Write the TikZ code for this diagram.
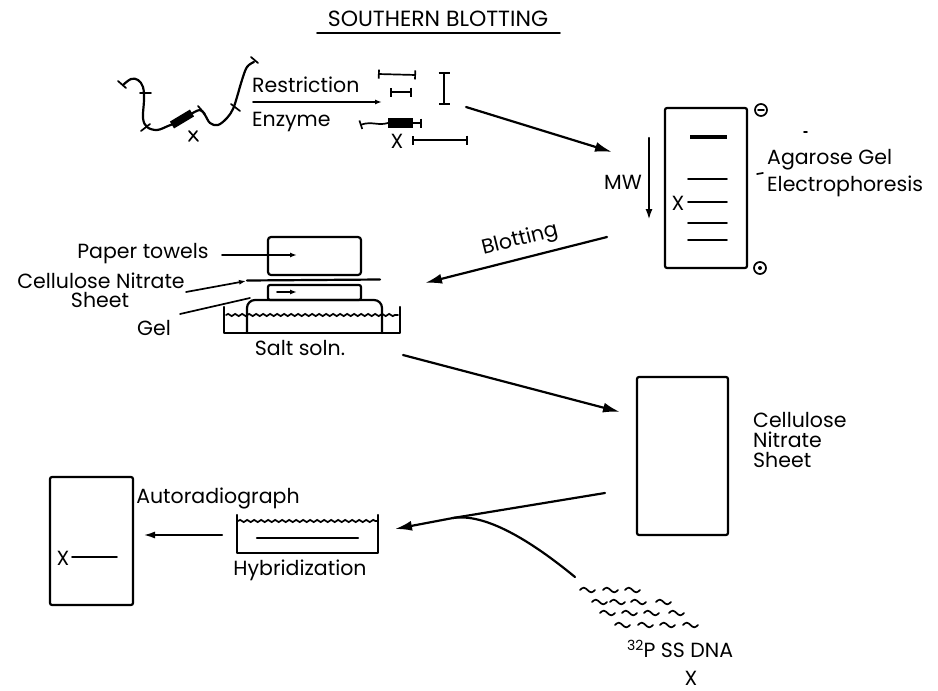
\documentclass[tikz,border=0pt]{standalone}
\usepackage{fontspec}
\setmainfont{Poppins}
\usetikzlibrary{arrows.meta,decorations.pathmorphing}
\newcommand{\lbfont}{\fontsize{20.5}{23}\selectfont}
\begin{document}
\begin{tikzpicture}[x=1pt,y=-1pt,
  ln/.style={line width=2.2pt,line cap=round,line join=round},
  thin/.style={line width=1.7pt,line cap=round},
  bigarrow/.style={ln,-{Latex[length=17pt,width=10pt]}},
  smallarrow/.style={thin,-{Latex[length=7pt,width=5pt]}},
  frag/.style={thin,{Bar[width=9pt,line width=1.7pt]}-{Bar[width=9pt,line width=1.7pt]}},
  lbl/.style={font=\lbfont,inner sep=0pt},
  box/.style={ln,rounded corners=2pt},
  wave/.style={thin,decorate,decoration={snake,amplitude=1.1pt,segment length=7pt}},
  tilde/.pic={\draw[thin] (0,0) sin (3.75,-2.3) cos (7.5,0) sin (11.25,2.3) cos (15,0);}]
\useasboundingbox (0,0) rectangle (938,691);

% title
\node[lbl,font=\fontsize{22}{24}\selectfont] (title) at (438,19) {SOUTHERN BLOTTING};
\draw[thin] (317,33) -- (560,33);

% genomic DNA with cut sites and gene X
\draw[ln] plot[smooth,tension=0.6] coordinates {(123,85) (131,79) (138,80) (143,87) (144,100) (143,118) (147,127) (157,130) (168,126) (173,124)};
\draw[line width=8pt] (172,125) -- (192,113);
\draw[ln] plot[smooth,tension=0.6] coordinates {(191,114) (200,110) (205,115) (210,123) (218,125) (227,118) (233,109) (237,97) (242,80) (247,67) (254,62)};
\draw[thin] (118,81) -- (126,88);
\draw[thin] (140,93) -- (151,93);
\draw[thin] (141,131) -- (150,124);
\draw[thin] (198,106) -- (205,114);
\draw[thin] (231,104) -- (240,111);
\draw[thin] (251,57) -- (258,63);
\draw[thin] (189,131) -- (198,141);
\draw[thin] (197,131) -- (189,141);

% restriction digest
\coordinate (rs) at (253,102);
\coordinate (re) at (382,102);
\draw[smallarrow] (rs) -- (re);
\node[lbl,anchor=base west] (restr) at (252,92) {Restriction};
\node[lbl,anchor=base west] (enz) at (252,126) {Enzyme};

% fragments
\draw[frag] (378,74) -- (416,75);
\draw[frag] (390,92) -- (412,92);
\draw[thin,{Bar[width=11pt,line width=1.7pt]}-{Bar[width=11pt,line width=1.7pt]}] (444,72) -- (444,105);
\draw[frag] (360,125) .. controls (372,121) and (378,126) .. (388,123) -- (422,123);
\fill (388,118) rectangle (413,128);
\node[lbl] (fx) at (397,141) {X};
\draw[frag] (412,140) -- (468,140);

% to electrophoresis
\coordinate (a1s) at (466,107);
\coordinate (a1e) at (612,152);
\draw[bigarrow] (a1s) -- (a1e);

% agarose gel
\draw[box] (665,108) rectangle (747,268);
\draw[line width=3.8pt] (690,137) -- (727,137);
\foreach \yy in {179,202,223,240} \draw[thin] (688,\yy) -- (727,\yy);
\node[lbl] (gx) at (678,203) {X};
\coordinate (mwt) at (649,138);
\coordinate (mwb) at (649,220);
\draw[ln,-{Latex[length=11pt,width=7pt]}] (mwt) -- (mwb);
\node[lbl] (mw) at (623,182) {MW};
\node[circle,draw,thin,minimum size=12pt,inner sep=0pt] (neg) at (761,110) {};
\draw[thin] (758,110) -- (764,110);
\node[circle,draw,thin,minimum size=12pt,inner sep=0pt] (pos) at (760,268) {};
\fill (760,268) circle (2pt);
\draw[thin] (804,132) -- (807,132);
\draw[thin] (757,174) -- (763,173);
\node[lbl,anchor=base west] (agar) at (767,164) {Agarose Gel};
\node[lbl,anchor=base west] (elec) at (767,191) {Electrophoresis};

% blotting
\coordinate (bs) at (607,237);
\coordinate (be) at (425,283);
\draw[bigarrow] (bs) -- (be);
\node[lbl,rotate=14] (blot) at (520,240) {Blotting};

% blotting stack
\draw[box,rounded corners=3pt] (268,237) rectangle (361,275);
\draw[box] (268,285) rectangle (361,300);
\draw[ln] (247,280.5) -- (380,279.5);
\draw[ln,rounded corners=8pt] (247,333) -- (247,300) -- (382,300) -- (382,333);
\draw[ln] (224,307) -- (224,333) -- (400,333) -- (400,307);
\draw[wave] (226,315) -- (398,315);
\coordinate (pts) at (222,255);
\coordinate (pte) at (297,255);
\draw[smallarrow] (pts) -- (pte);
\coordinate (gls) at (277,292);
\coordinate (gle) at (297,292);
\draw[smallarrow] (gls) -- (gle);
\coordinate (shs) at (186,292);
\coordinate (she) at (246,281);
\draw[smallarrow] (shs) -- (she);
\coordinate (gels) at (180,314);
\coordinate (gele) at (250,298);
\draw[thin] (gels) -- (gele);
\node[lbl] (ptw) at (143,254) {Paper towels};
\node[lbl] (cn1) at (101,281) {Cellulose Nitrate};
\node[lbl] (cn2) at (100,300) {Sheet};
\node[lbl] (gel) at (154,328) {Gel};
\node[lbl] (salt) at (300,348) {Salt soln.};

% to nitrocellulose sheet
\coordinate (a3s) at (403,355);
\coordinate (a3e) at (620,412);
\draw[bigarrow] (a3s) -- (a3e);
\draw[box] (637,377) rectangle (728,535);
\node[lbl,anchor=north west,align=left] (cns) at (753,412) {Cellulose\\[-3pt]Nitrate\\[-3pt]Sheet};

% probe and hybridization
\coordinate (hs) at (605,493);
\coordinate (hj) at (453,518);
\coordinate (he) at (395,529);
\coordinate (pe) at (575,577);
\draw[ln] (hs) -- (hj);
\draw[bigarrow] (hj) -- (he);
\draw[ln] (hj) .. controls (485,513) and (530,540) .. (pe);
\foreach \xx in {580,603,625} \pic at (\xx,590) {tilde};
\foreach \xx in {592,610,631,656} \pic at (\xx,602) {tilde};
\foreach \xx in {600,622,644,669} \pic at (\xx,613) {tilde};
\foreach \xx in {615,638,660,683} \pic at (\xx,625) {tilde};
\node[lbl,anchor=base west] (probe) at (627,657) {\raisebox{7pt}{\fontsize{14}{15}\selectfont 32}P SS DNA};
\node[lbl] (px) at (691,678) {X};

\draw[ln] (237,515) -- (237,553) -- (378,553) -- (378,515);
\draw[wave] (238,521) -- (377,521);
\draw[ln] (257,538) -- (358,538);
\node[lbl] (hyb) at (300,570) {Hybridization};

% autoradiograph
\coordinate (a5s) at (222,535);
\coordinate (a5e) at (143,535);
\draw[ln,-{Latex[length=12pt,width=7pt]}] (a5s) -- (a5e);
\node[lbl] (auto) at (218,498) {Autoradiograph};
\draw[box] (50,477) rectangle (133,605);
\node[lbl] (ax) at (63,558) {X};
\draw[thin] (72,557) -- (117,557);
\end{tikzpicture}
\end{document}
